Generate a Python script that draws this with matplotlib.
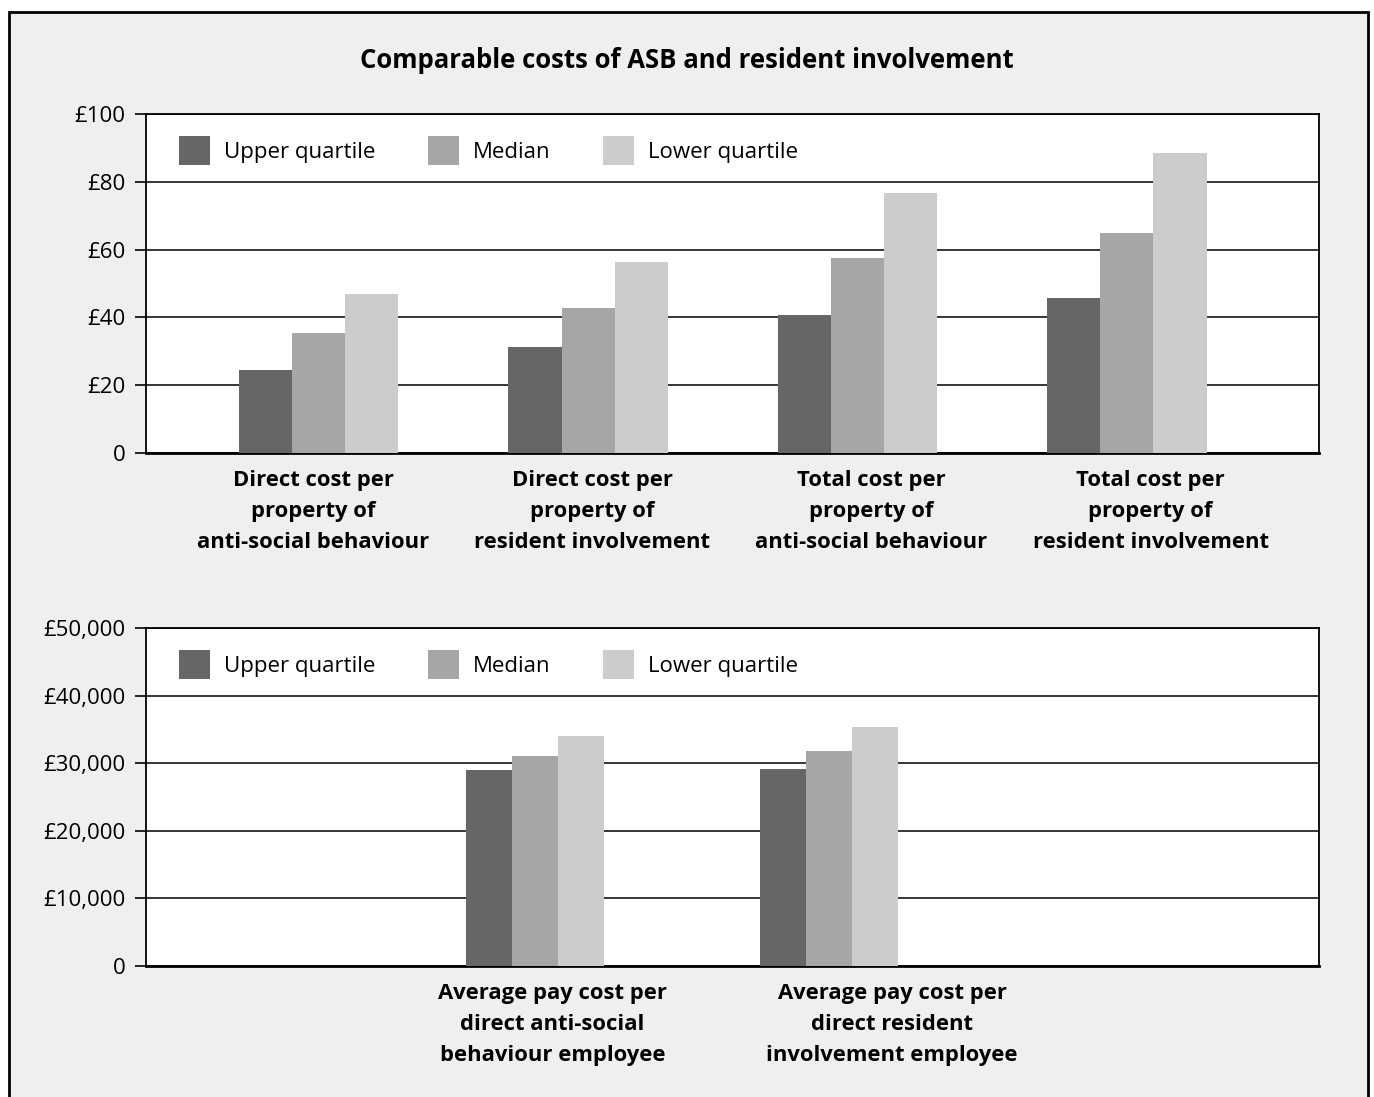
import numpy as np
import matplotlib.pyplot as plt
from matplotlib.patches import Rectangle

plt.rcParams['font.family'] = ['Open Sans', 'DejaVu Sans']

# datos
series = ['Upper quartile', 'Median', 'Lower quartile']
colores = ['#666666', '#a6a6a6', '#cccccc']

cat_arriba = ['Direct cost per\nproperty of\nanti-social behaviour',
              'Direct cost per\nproperty of\nresident involvement',
              'Total cost per\nproperty of\nanti-social behaviour',
              'Total cost per\nproperty of\nresident involvement']
upper_arriba = [24.5, 31.3, 40.7, 45.7]
median_arriba = [35.4, 42.8, 57.5, 64.9]
lower_arriba = [46.9, 56.3, 76.7, 88.5]

cat_abajo = ['Average pay cost per\ndirect anti-social\nbehaviour employee',
             'Average pay cost per\ndirect resident\ninvolvement employee']
upper_abajo = [29000, 29100]
median_abajo = [31100, 31800]
lower_abajo = [34000, 35400]

W, H = 1374, 1097
fig = plt.figure(figsize=(W / 100, H / 100), dpi=100)
fig.patch.set_facecolor('white')
# marco gris con borde negro (sin borde inferior visible)
fig.patches.append(Rectangle((9 / W, -0.05), (1368 - 9) / W, 1.05 - 12 / H,
                             transform=fig.transFigure, facecolor='#efefef',
                             edgecolor='black', linewidth=2, zorder=-10))

fig.text(0.5, 1 - 61 / H, 'Comparable costs of ASB and resident involvement',
         ha='center', va='center', fontsize=18.5, fontweight='bold')


def dibujar(ax, cats, valores, ancho, ymax, yticks, yetiq, xlim, paso_etq, desp_etq):
    x = np.arange(len(cats))
    for k, (vals, col, nom) in enumerate(zip(valores, colores, series)):
        ax.bar(x + (k - 1) * ancho, vals, ancho, color=col, label=nom, zorder=3)
    ax.set_xlim(xlim)
    ax.set_ylim(0, ymax)
    ax.set_yticks(yticks)
    ax.set_yticklabels(yetiq, fontsize=16)
    # las etiquetas del original no quedan justo bajo cada grupo
    ax.set_xticks(x * paso_etq + desp_etq)
    ax.set_xticklabels(cats, fontsize=15.8, fontweight='bold', linespacing=1.62)
    ax.tick_params(axis='x', length=0, pad=12)
    ax.tick_params(axis='y', length=8, width=1.2, pad=7)
    ax.yaxis.grid(True, color='black', linewidth=1.1, zorder=0)
    ax.set_axisbelow(True)
    for s in ax.spines.values():
        s.set_linewidth(1.3)
    ax.spines['bottom'].set_linewidth(2)
    ax.legend(loc='upper left', ncol=3, frameon=False, fontsize=16,
              handlelength=1.4, handleheight=1.65, handletextpad=0.63,
              columnspacing=2.35, borderaxespad=0, borderpad=0,
              bbox_to_anchor=(33 / 1173, 0.935))


ax1 = fig.add_axes([146 / W, 1 - 453 / H, (1319 - 146) / W, 339 / H])
dibujar(ax1, cat_arriba, [upper_arriba, median_arriba, lower_arriba], 0.197, 100,
        [0, 20, 40, 60, 80, 100], ['0', '£20', '£40', '£60', '£80', '£100'],
        (-0.641, 3.713), 1.036, -0.02)

ax2 = fig.add_axes([146 / W, 1 - 966 / H, (1319 - 146) / W, 338 / H])
dibujar(ax2, cat_abajo, [upper_abajo, median_abajo, lower_abajo], 0.157, 50000,
        [0, 10000, 20000, 30000, 40000, 50000],
        ['0', '£10,000', '£20,000', '£30,000', '£40,000', '£50,000'],
        (-1.323, 2.667), 1.155, 0.06)

plt.savefig('out.png', dpi=100)
